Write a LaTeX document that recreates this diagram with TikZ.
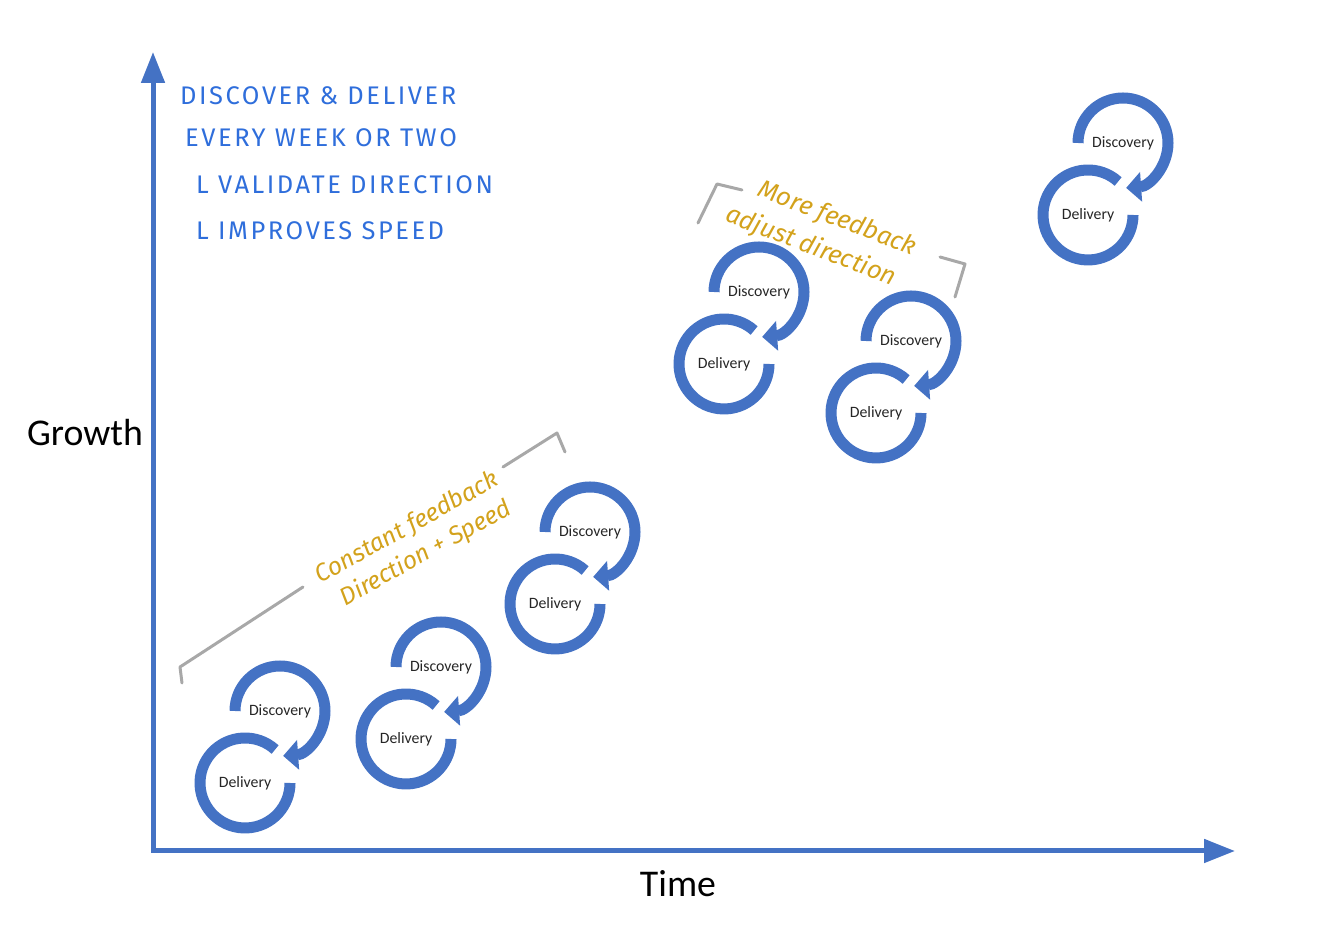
\documentclass[tikz,border=0pt]{standalone}
\usepackage{fontspec}
\setmainfont{Carlito}
\newfontfamily\handfont{Fira Sans}[LetterSpace=10]
\newfontfamily\notefont{Fira Sans}
\usetikzlibrary{arrows.meta}
\definecolor{loopblue}{HTML}{4472C4}
\definecolor{penblue}{HTML}{2F6EDB}
\definecolor{pengold}{HTML}{D3A21C}
\definecolor{bracketgray}{HTML}{A8A8A8}

\begin{document}
\begin{tikzpicture}[x=0.02cm,y=0.02cm,
    axes/.style={draw=loopblue,line width=0.1cm,
      {Triangle[width=0.46cm,length=0.62cm]}-{Triangle[width=0.46cm,length=0.62cm]}},
    loopline/.style={draw=loopblue,line width=0.22cm},
    looptip/.style={loopline,-{Triangle[width=0.58cm,length=0.3cm]}},
    looplabel/.style={font=\fontsize{9}{10}\selectfont,text=black!85},
    bracketline/.style={draw=bracketgray,line width=0.06cm,line cap=round,line join=round},
    pen/.style={text=penblue,font=\handfont\fontsize{14.5}{16}\selectfont,anchor=west},
    note/.style={text=pengold,align=left,inner sep=0pt}]
  \useasboundingbox (0,0) rectangle (1318,929);

  % axes
  \coordinate (O) at (153,78);
  \coordinate (ytip) at (153,877);
  \coordinate (xtip) at (1235,78);
  \draw[axes] (ytip) -- (O) -- (xtip);
  \node[font=\fontsize{21.5}{24}\selectfont] (growth) at (85,496) {Growth};
  \node[font=\fontsize{21.5}{24}\selectfont] (time) at (678,45) {Time};

  % loops
  \node[looplabel] (disc1) at (280,218) {Discovery};
  \node[looplabel,below of=disc1,node distance=1.44cm,xshift=-0.7cm] (deliv1) {Delivery};
  \node[looplabel] (disc2) at (441,262) {Discovery};
  \node[looplabel,below of=disc2,node distance=1.44cm,xshift=-0.7cm] (deliv2) {Delivery};
  \node[looplabel] (disc3) at (590,397) {Discovery};
  \node[looplabel,below of=disc3,node distance=1.44cm,xshift=-0.7cm] (deliv3) {Delivery};
  \node[looplabel] (disc4) at (759,637) {Discovery};
  \node[looplabel,below of=disc4,node distance=1.44cm,xshift=-0.7cm] (deliv4) {Delivery};
  \node[looplabel] (disc5) at (911,588) {Discovery};
  \node[looplabel,below of=disc5,node distance=1.44cm,xshift=-0.7cm] (deliv5) {Delivery};
  \node[looplabel] (disc6) at (1123,786) {Discovery};
  \node[looplabel,below of=disc6,node distance=1.44cm,xshift=-0.7cm] (deliv6) {Delivery};

  \draw[looptip] (disc1.center) ++(180:45) arc[start angle=180,end angle=-86,radius=45];
  \draw[loopline] (deliv1.center) ++(48:45) arc[start angle=48,end angle=360,radius=45];
  \draw[looptip] (disc2.center) ++(180:45) arc[start angle=180,end angle=-86,radius=45];
  \draw[loopline] (deliv2.center) ++(48:45) arc[start angle=48,end angle=360,radius=45];
  \draw[looptip] (disc3.center) ++(180:45) arc[start angle=180,end angle=-86,radius=45];
  \draw[loopline] (deliv3.center) ++(48:45) arc[start angle=48,end angle=360,radius=45];
  \draw[looptip] (disc4.center) ++(180:45) arc[start angle=180,end angle=-86,radius=45];
  \draw[loopline] (deliv4.center) ++(48:45) arc[start angle=48,end angle=360,radius=45];
  \draw[looptip] (disc5.center) ++(180:45) arc[start angle=180,end angle=-86,radius=45];
  \draw[loopline] (deliv5.center) ++(48:45) arc[start angle=48,end angle=360,radius=45];
  \draw[looptip] (disc6.center) ++(180:45) arc[start angle=180,end angle=-86,radius=45];
  \draw[loopline] (deliv6.center) ++(48:45) arc[start angle=48,end angle=360,radius=45];

  % handwritten notes
  \node[pen] (line1) at (174,833) {DISCOVER \& DELIVER};
  \node[pen] (line2) at (179,791) {EVERY WEEK OR TWO};
  \node[pen] (line3) at (190,744) {L VALIDATE DIRECTION};
  \node[pen] (line4) at (190,698) {L IMPROVES SPEED};

  \node[note,rotate=-21,font=\notefont\itshape\fontsize{14.5}{20}\selectfont] (morefb) at (821,697)
    {\hspace*{12pt}More feedback\\adjust direction};
  \node[note,rotate=29,font=\notefont\itshape\fontsize{14}{18}\selectfont] (constfb) at (415,387)
    {Constant feedback\\\hspace*{6pt}Direction + Speed};

  % brackets
  \draw[bracketline] (182,246) -- (180,262) -- (303,342);
  \draw[bracketline] (503,462) -- (557,496) -- (565,477);
  \draw[bracketline] (698,706) -- (717,745) -- (742,739);
  \draw[bracketline] (940,672) -- (965,665) -- (955,632);
\end{tikzpicture}
\end{document}
